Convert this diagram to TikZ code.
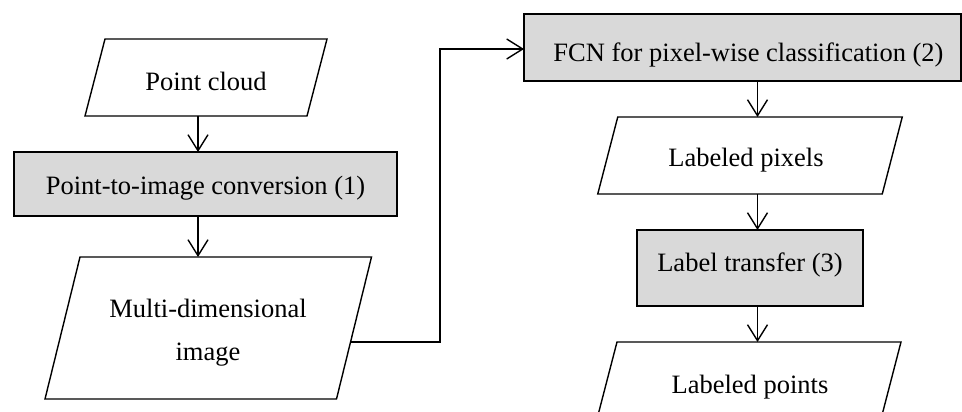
\documentclass[tikz,border=0pt]{standalone}
\usepackage{fontspec}
\setmainfont{Liberation Serif}
\usetikzlibrary{arrows.meta,calc}
\definecolor{boxgray}{RGB}{217,217,217}
\tikzset{
  x=1pt, y=-1pt,
  every node/.style={inner sep=0pt, outer sep=0pt},
  procbox/.style={draw=black, fill=boxgray, line width=1.4pt, rectangle},
  datashape/.style={rectangle},
  paraline/.style={draw=black, line width=1.4pt, line join=miter},
  txt/.style={anchor=base, font=\fontsize{26.5}{30}\selectfont},
  arr/.style={line width=1.4pt, -{Straight Barb[length=16pt,width=20pt,line width=1.4pt]}}
}
\begin{document}
\begin{tikzpicture}
\useasboundingbox (0,0) rectangle (962,412);
% shape nodes
\node[datashape, minimum width=222pt, minimum height=77pt] (pc) at (206,77.5) {};
\node[procbox, minimum width=383pt, minimum height=64pt] (b1) at (205.5,184) {};
\node[datashape, minimum width=291.5pt, minimum height=142pt] (md) at (208.25,328) {};
\node[procbox, minimum width=437pt, minimum height=67pt] (fcn) at (742.5,47.5) {};
\node[datashape, minimum width=284.5pt, minimum height=77pt] (lpx) at (750,155.5) {};
\node[procbox, minimum width=226pt, minimum height=76pt] (lt) at (750,268) {};
\node[datashape, minimum width=284pt, minimum height=77pt] (lpt) at (749,380.5) {};
% parallelograms
\draw[paraline] ([xshift=10pt]pc.north west) -- ([xshift=10pt]pc.north east) -- ([xshift=-10pt]pc.south east) -- ([xshift=-10pt]pc.south west) -- cycle;
\draw[paraline] ([xshift=17.5pt]md.north west) -- ([xshift=17.5pt]md.north east) -- ([xshift=-17.5pt]md.south east) -- ([xshift=-17.5pt]md.south west) -- cycle;
\draw[paraline] ([xshift=10pt]lpx.north west) -- ([xshift=10pt]lpx.north east) -- ([xshift=-10pt]lpx.south east) -- ([xshift=-10pt]lpx.south west) -- cycle;
\draw[paraline] ([xshift=10pt]lpt.north west) -- ([xshift=10pt]lpt.north east) -- ([xshift=-10pt]lpt.south east) -- ([xshift=-10pt]lpt.south west) -- cycle;
% texts
\node[txt] (tpc) at (206,91) {Point cloud};
\node[txt] (tb1) at (205.5,194) {Point-to-image conversion (1)};
\node[txt] (tmd1) at (208,317) {Multi-dimensional};
\node[txt] (tmd2) at (208,360) {image};
\node[txt] (tfcn) at (748.5,61.5) {FCN for pixel-wise classification (2)};
\node[txt] (tlpx) at (746,166.5) {Labeled pixels};
\node[txt] (tlt) at (750,271) {Label transfer (3)};
\node[txt] (tlpt) at (750,393) {Labeled points};
% connector coordinates
\coordinate (axl) at (198,0);
\coordinate (axr) at (757.5,0);
\coordinate (mdout) at (351,342);
\coordinate (j1) at (440,342);
\coordinate (j2) at (440,49);
% connectors
\draw[arr] (pc.south -| axl) -- (b1.north -| axl);
\draw[arr] (b1.south -| axl) -- (md.north -| axl);
\draw[arr] (mdout) -- (j1) -- (j2) -- (j2 -| fcn.west);
\draw[arr] (fcn.south -| axr) -- (lpx.north -| axr);
\draw[arr] (lpx.south -| axr) -- (lt.north -| axr);
\draw[arr] (lt.south -| axr) -- (lpt.north -| axr);
\end{tikzpicture}
\end{document}
